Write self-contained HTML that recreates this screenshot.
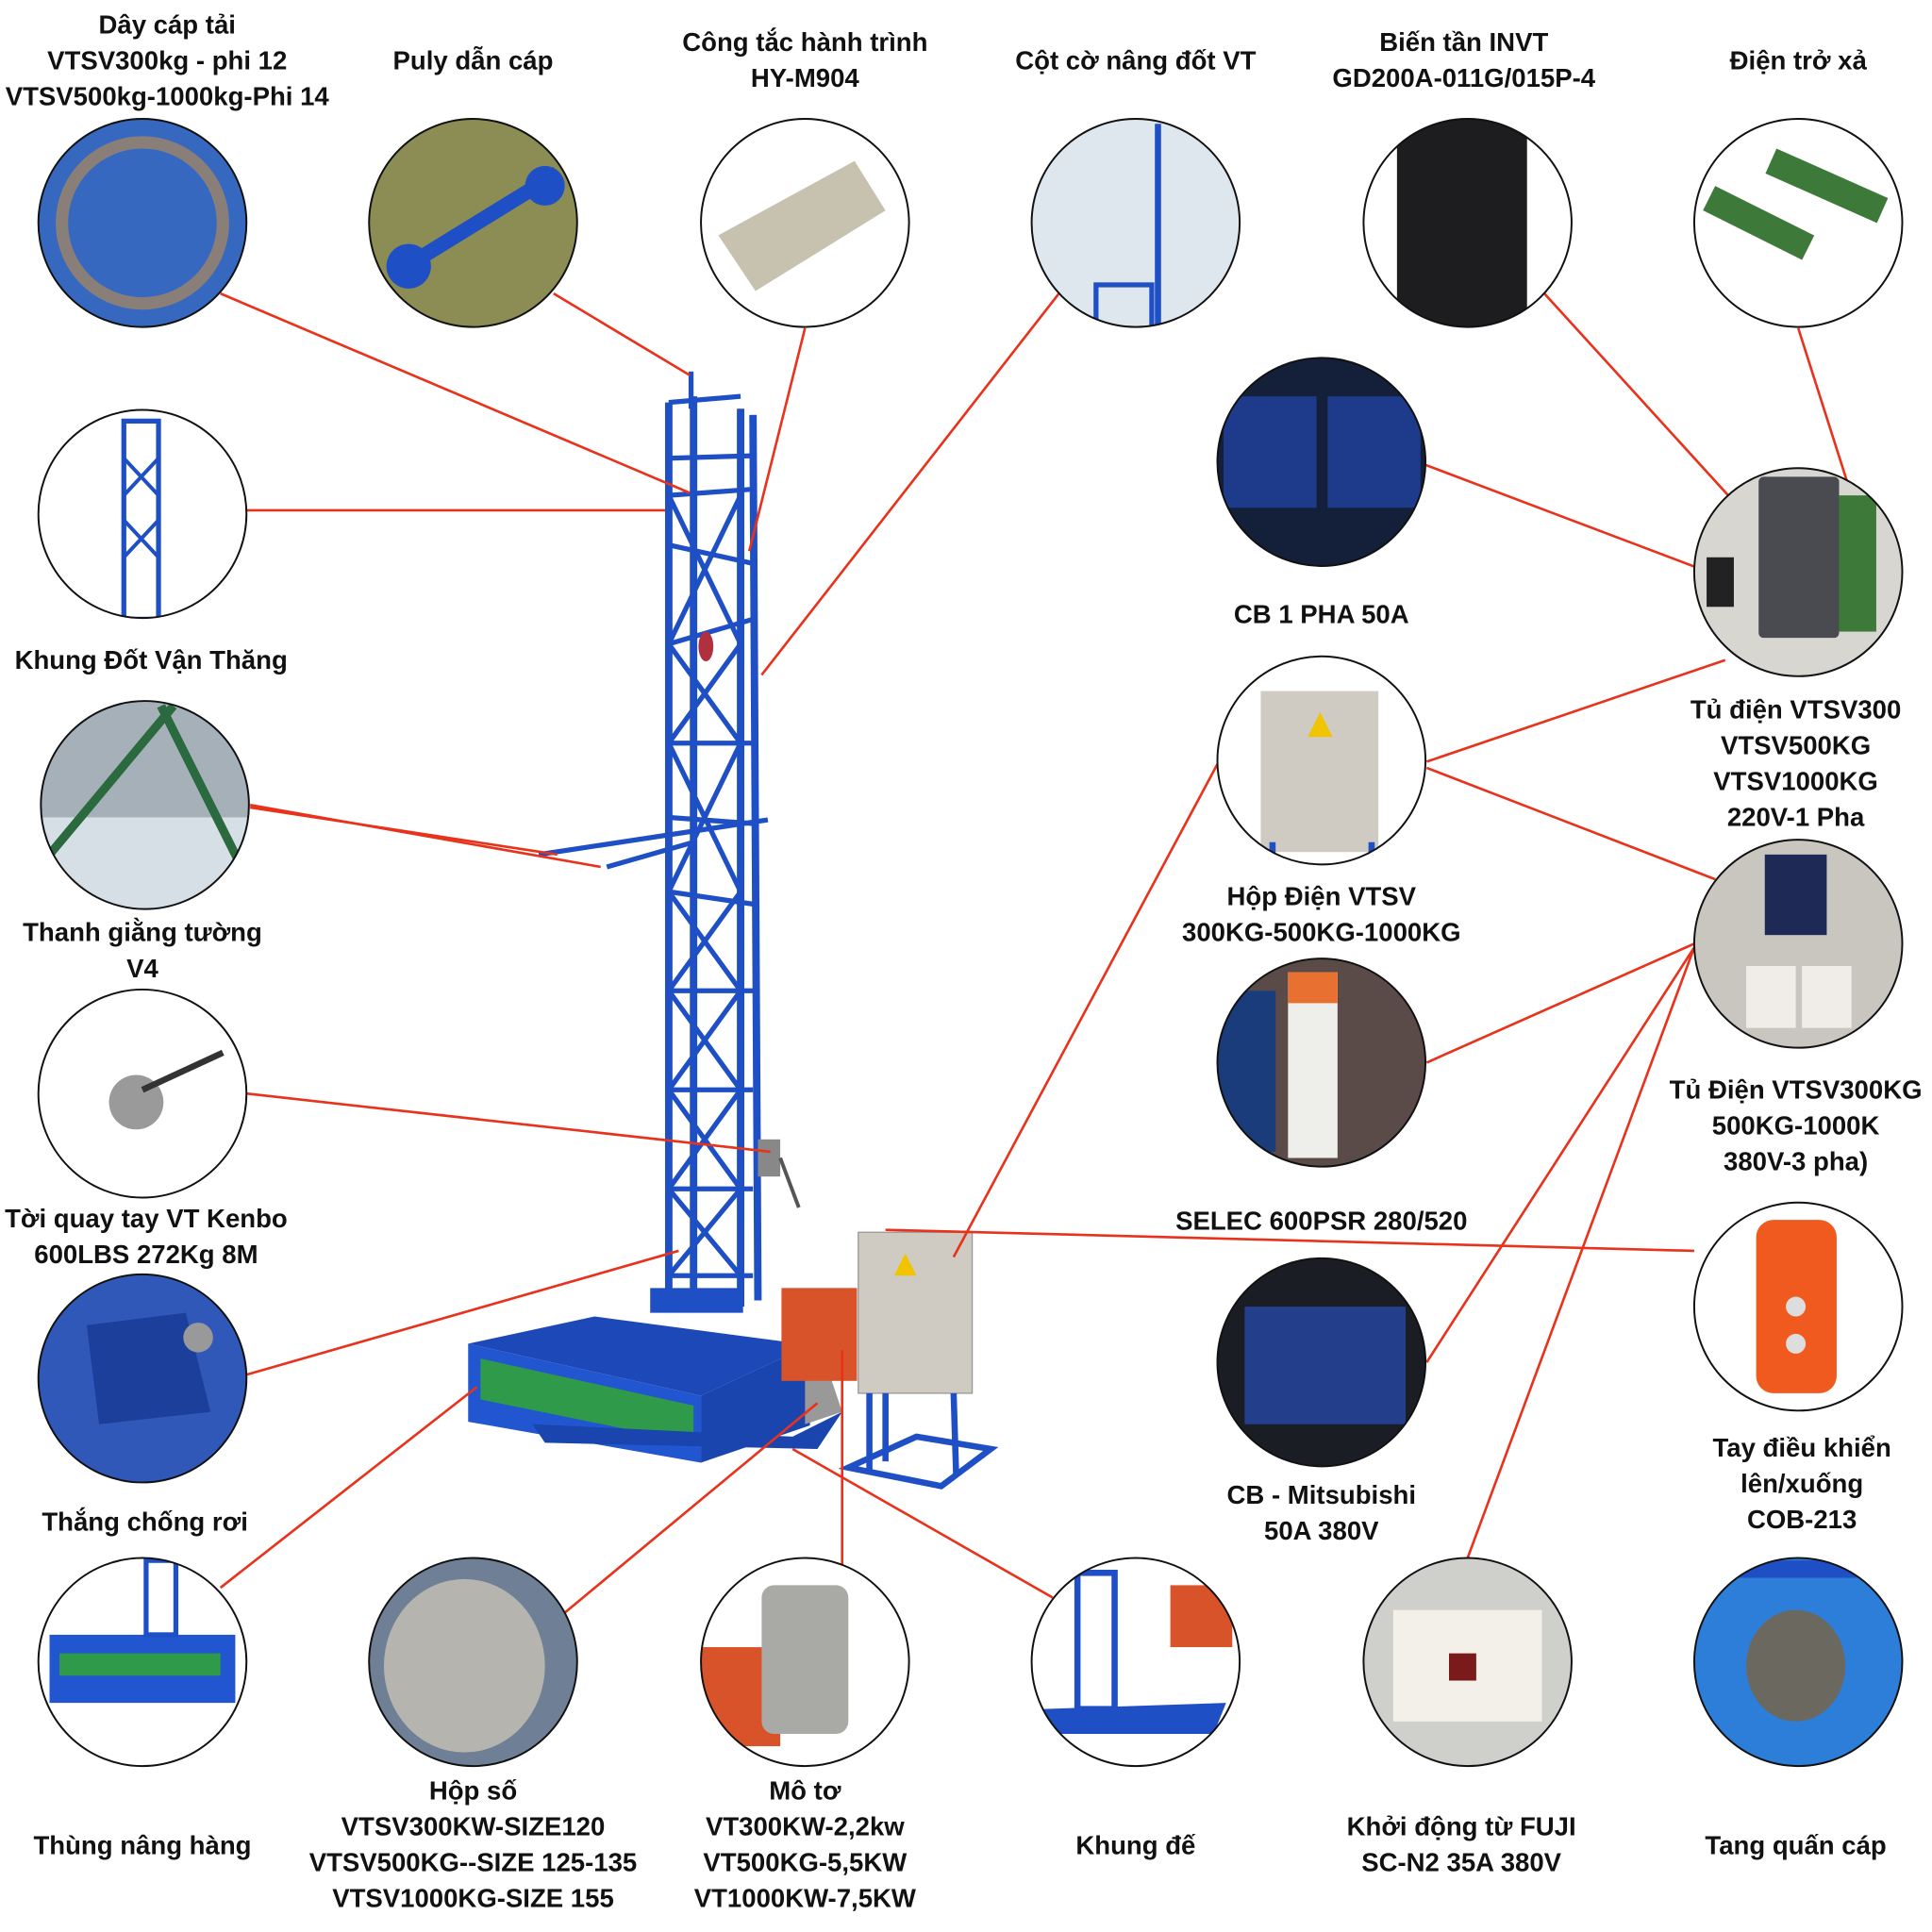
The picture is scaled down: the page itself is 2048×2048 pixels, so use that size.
<!DOCTYPE html>
<html><head><meta charset="utf-8"><style>
html,body{margin:0;padding:0;background:#fff}
svg{display:block}
text{font-family:"Liberation Sans","DejaVu Sans",sans-serif;font-weight:bold;font-size:21px;fill:#111;text-anchor:middle}
</style></head><body>
<svg width="2048" height="2048" viewBox="0 0 1560 1560" xmlns="http://www.w3.org/2000/svg">
<defs>
<clipPath id="c1"><circle cx="115" cy="180" r="84"/></clipPath>
<clipPath id="c2"><circle cx="382" cy="180" r="84"/></clipPath>
<clipPath id="c3"><circle cx="650" cy="180" r="84"/></clipPath>
<clipPath id="c4"><circle cx="917" cy="180" r="84"/></clipPath>
<clipPath id="c5"><circle cx="1185" cy="180" r="84"/></clipPath>
<clipPath id="c6"><circle cx="1452" cy="180" r="84"/></clipPath>
<clipPath id="c7"><circle cx="115" cy="415" r="84"/></clipPath>
<clipPath id="c8"><circle cx="117" cy="650" r="84"/></clipPath>
<clipPath id="c9"><circle cx="115" cy="883" r="84"/></clipPath>
<clipPath id="c10"><circle cx="115" cy="1113" r="84"/></clipPath>
<clipPath id="c11"><circle cx="115" cy="1342" r="84"/></clipPath>
<clipPath id="c12"><circle cx="382" cy="1342" r="84"/></clipPath>
<clipPath id="c13"><circle cx="650" cy="1342" r="84"/></clipPath>
<clipPath id="c14"><circle cx="917" cy="1342" r="84"/></clipPath>
<clipPath id="c15"><circle cx="1185" cy="1342" r="84"/></clipPath>
<clipPath id="c16"><circle cx="1452" cy="1342" r="84"/></clipPath>
<clipPath id="c17"><circle cx="1067" cy="373" r="84"/></clipPath>
<clipPath id="c18"><circle cx="1452" cy="462" r="84"/></clipPath>
<clipPath id="c19"><circle cx="1067" cy="614" r="84"/></clipPath>
<clipPath id="c20"><circle cx="1452" cy="762" r="84"/></clipPath>
<clipPath id="c21"><circle cx="1067" cy="858" r="84"/></clipPath>
<clipPath id="c22"><circle cx="1452" cy="1055" r="84"/></clipPath>
<clipPath id="c23"><circle cx="1067" cy="1100" r="84"/></clipPath>
</defs>

<!-- Tower -->
<g stroke="#1f4fc4" fill="none" stroke-width="6">
<line x1="540" y1="325" x2="540" y2="1055"/>
<line x1="560" y1="320" x2="560" y2="1055"/>
<line x1="598" y1="330" x2="598" y2="1055"/>
<line x1="608" y1="335" x2="612" y2="1050"/>
<g stroke-width="4">
<line x1="540" y1="325" x2="598" y2="320"/>
<line x1="540" y1="370" x2="608" y2="368"/>
<line x1="540" y1="400" x2="608" y2="395"/>
<line x1="540" y1="440" x2="608" y2="455"/>
<line x1="540" y1="520" x2="608" y2="500"/>
<line x1="540" y1="600" x2="608" y2="600"/>
<line x1="540" y1="660" x2="608" y2="665"/>
<line x1="540" y1="720" x2="608" y2="730"/>
<line x1="540" y1="800" x2="608" y2="800"/>
<line x1="540" y1="880" x2="608" y2="880"/>
<line x1="540" y1="960" x2="608" y2="960"/>
<line x1="540" y1="1030" x2="608" y2="1030"/>
<line x1="540" y1="400" x2="598" y2="520"/>
<line x1="598" y1="400" x2="540" y2="520"/>
<line x1="540" y1="520" x2="598" y2="600"/>
<line x1="598" y1="520" x2="540" y2="600"/>
<line x1="540" y1="600" x2="598" y2="720"/>
<line x1="598" y1="600" x2="540" y2="720"/>
<line x1="540" y1="720" x2="598" y2="800"/>
<line x1="598" y1="720" x2="540" y2="800"/>
<line x1="540" y1="800" x2="598" y2="880"/>
<line x1="598" y1="800" x2="540" y2="880"/>
<line x1="540" y1="880" x2="598" y2="960"/>
<line x1="598" y1="880" x2="540" y2="960"/>
<line x1="540" y1="960" x2="598" y2="1030"/>
<line x1="598" y1="960" x2="540" y2="1030"/>
<line x1="435" y1="690" x2="620" y2="662"/>
<line x1="490" y1="700" x2="560" y2="680"/>
</g>
<line x1="558" y1="300" x2="558" y2="330" stroke-width="4"/>
</g>
<ellipse cx="570" cy="522" rx="6" ry="12" fill="#b03040"/>
<rect x="612" y="920" width="18" height="30" fill="#888"/>
<line x1="630" y1="935" x2="645" y2="975" stroke="#555" stroke-width="3"/>

<!-- Base / box -->
<polygon points="525,1040 600,1040 600,1060 525,1060" fill="#1f4fc4"/>
<polygon points="480,1063 654,1086 566,1127 378,1085" fill="#1d48b8"/>
<polygon points="378,1085 566,1127 566,1181 378,1148" fill="#2156d0"/>
<polygon points="566,1127 654,1086 654,1151 566,1181" fill="#1a44ae"/>
<polygon points="388,1097 560,1135 560,1165 388,1130" fill="#2f9a4a"/>
<polygon points="430,1150 640,1160 680,1140 660,1170 440,1165" fill="#1a44ae"/>
<polygon points="650,1110 670,1110 680,1140 650,1150" fill="#999"/>
<rect x="631" y="1040" width="61" height="75" fill="#d9532a"/>
<rect x="693" y="995" width="92" height="130" fill="#cfcbc2" stroke="#999" stroke-width="1"/>
<polygon points="731,1012 740,1030 722,1030" fill="#f0c400"/>
<g stroke="#1f4fc4" stroke-width="5" fill="none">
<line x1="702" y1="1125" x2="702" y2="1190"/>
<line x1="715" y1="1125" x2="715" y2="1180"/>
<line x1="770" y1="1125" x2="772" y2="1190"/>
<polygon points="685,1185 740,1160 800,1170 760,1200"/>
</g>

<!-- Red lines -->
<g stroke="#e8321b" stroke-width="2" fill="none">
<line x1="178" y1="237" x2="557" y2="398"/>
<line x1="447" y1="237" x2="557" y2="303"/>
<line x1="650" y1="265" x2="605" y2="445"/>
<line x1="855" y1="237" x2="615" y2="545"/>
<line x1="199" y1="412" x2="537" y2="412"/>
<line x1="202" y1="650" x2="485" y2="700"/>
<line x1="202" y1="652" x2="450" y2="690"/>
<line x1="199" y1="883" x2="622" y2="930"/>
<line x1="199" y1="1110" x2="548" y2="1010"/>
<line x1="178" y1="1282" x2="385" y2="1120"/>
<line x1="455" y1="1303" x2="660" y2="1133"/>
<line x1="680" y1="1265" x2="680" y2="1090"/>
<line x1="850" y1="1290" x2="640" y2="1170"/>
<line x1="1247" y1="237" x2="1400" y2="405"/>
<line x1="1452" y1="265" x2="1495" y2="400"/>
<line x1="1150" y1="375" x2="1380" y2="462"/>
<line x1="1393" y1="533" x2="1152" y2="615"/>
<line x1="1152" y1="620" x2="1385" y2="710"/>
<line x1="983" y1="617" x2="770" y2="1015"/>
<line x1="1152" y1="858" x2="1368" y2="762"/>
<line x1="1152" y1="1100" x2="1368" y2="765"/>
<line x1="1185" y1="1258" x2="1368" y2="765"/>
<line x1="1368" y1="1010" x2="715" y2="993"/>
</g>

<!-- Circle contents -->
<g clip-path="url(#c1)"><rect x="20" y="90" width="190" height="180" fill="#3768c0"/><circle cx="115" cy="180" r="65" fill="none" stroke="#8a7f78" stroke-width="10"/></g>
<g clip-path="url(#c2)"><rect x="290" y="90" width="190" height="180" fill="#8c8c55"/><line x1="320" y1="220" x2="450" y2="140" stroke="#1f4fc4" stroke-width="12"/><circle cx="330" cy="215" r="18" fill="#1f4fc4"/><circle cx="440" cy="150" r="16" fill="#1f4fc4"/></g>
<g clip-path="url(#c3)"><rect x="560" y="90" width="190" height="180" fill="#fff"/><polygon points="580,190 690,130 715,170 610,235" fill="#c7c2b0"/></g>
<g clip-path="url(#c4)"><rect x="830" y="90" width="190" height="180" fill="#dfe7ee"/><line x1="935" y1="100" x2="935" y2="270" stroke="#1f4fc4" stroke-width="5"/><rect x="885" y="230" width="45" height="40" fill="none" stroke="#1f4fc4" stroke-width="4"/></g>
<g clip-path="url(#c5)"><rect x="1100" y="90" width="190" height="180" fill="#fff"/><rect x="1128" y="96" width="105" height="170" rx="6" fill="#1d1d1f"/></g>
<g clip-path="url(#c6)"><rect x="1360" y="90" width="190" height="180" fill="#fff"/><line x1="1380" y1="160" x2="1460" y2="200" stroke="#3d7a3a" stroke-width="22"/><line x1="1430" y1="130" x2="1520" y2="170" stroke="#3d7a3a" stroke-width="22"/></g>
<g clip-path="url(#c7)"><rect x="20" y="320" width="190" height="190" fill="#fff"/><rect x="100" y="340" width="28" height="160" fill="none" stroke="#1f4fc4" stroke-width="4"/><path d="M100 370 L128 400 M128 370 L100 400 M100 420 L128 450 M128 420 L100 450" stroke="#1f4fc4" stroke-width="3"/></g>
<g clip-path="url(#c8)"><rect x="30" y="560" width="190" height="180" fill="#a6b0b8"/><rect x="30" y="660" width="190" height="80" fill="#d6dfe6"/><line x1="40" y1="690" x2="140" y2="570" stroke="#2a6a3e" stroke-width="7"/><line x1="130" y1="570" x2="195" y2="700" stroke="#2a6a3e" stroke-width="7"/></g>
<g clip-path="url(#c9)"><rect x="20" y="790" width="190" height="190" fill="#fff"/><circle cx="110" cy="890" r="22" fill="#9a9a9a"/><line x1="115" y1="880" x2="180" y2="850" stroke="#333" stroke-width="5"/></g>
<g clip-path="url(#c10)"><rect x="20" y="1020" width="190" height="190" fill="#2f58b8"/><polygon points="70,1070 150,1060 170,1140 80,1150" fill="#1c3f9c"/><circle cx="160" cy="1080" r="12" fill="#999"/></g>
<g clip-path="url(#c11)"><rect x="20" y="1250" width="190" height="190" fill="#fff"/><rect x="40" y="1320" width="150" height="55" fill="#2156d0"/><rect x="48" y="1335" width="130" height="18" fill="#2f9a4a"/><rect x="118" y="1260" width="24" height="60" fill="none" stroke="#1f4fc4" stroke-width="4"/></g>
<g clip-path="url(#c12)"><rect x="290" y="1250" width="190" height="190" fill="#6f7f96"/><ellipse cx="375" cy="1345" rx="65" ry="70" fill="#b6b4ae"/></g>
<g clip-path="url(#c13)"><rect x="560" y="1250" width="190" height="190" fill="#fff"/><rect x="560" y="1330" width="70" height="80" fill="#d9532a"/><rect x="615" y="1280" width="70" height="120" rx="10" fill="#a9a9a6"/></g>
<g clip-path="url(#c14)"><rect x="830" y="1250" width="190" height="190" fill="#fff"/><rect x="870" y="1270" width="30" height="110" fill="none" stroke="#1f4fc4" stroke-width="5"/><rect x="945" y="1280" width="50" height="50" fill="#d9532a"/><polygon points="840,1380 990,1375 980,1400 850,1400" fill="#1f4fc4"/></g>
<g clip-path="url(#c15)"><rect x="1100" y="1250" width="190" height="190" fill="#cfcfcc"/><rect x="1125" y="1300" width="120" height="90" fill="#f3f0ea"/><rect x="1170" y="1335" width="22" height="22" fill="#7a1a1a"/></g>
<g clip-path="url(#c16)"><rect x="1360" y="1250" width="190" height="190" fill="#2d7ed8"/><ellipse cx="1450" cy="1345" rx="40" ry="45" fill="#6b6860"/><rect x="1380" y="1260" width="150" height="14" fill="#1f4fc4"/></g>
<g clip-path="url(#c17)"><rect x="980" y="285" width="190" height="180" fill="#14203a"/><rect x="988" y="320" width="75" height="90" fill="#1e3a8a"/><rect x="1072" y="320" width="75" height="90" fill="#1e3a8a"/></g>
<g clip-path="url(#c18)"><rect x="1360" y="370" width="190" height="190" fill="#d8d6d0"/><rect x="1420" y="385" width="65" height="130" rx="4" fill="#4a4b50"/><rect x="1485" y="400" width="30" height="110" fill="#3d7a3a"/><rect x="1378" y="450" width="22" height="40" fill="#222"/></g>
<g clip-path="url(#c19)"><rect x="980" y="520" width="190" height="190" fill="#fff"/><rect x="1018" y="558" width="95" height="130" fill="#cfcbc2"/><rect x="1025" y="680" width="5" height="30" fill="#1f4fc4"/><rect x="1105" y="680" width="5" height="30" fill="#1f4fc4"/><polygon points="1066,575 1076,595 1056,595" fill="#f0c400"/></g>
<g clip-path="url(#c20)"><rect x="1360" y="670" width="190" height="190" fill="#c9c6c0"/><rect x="1425" y="690" width="50" height="65" fill="#1e2a55"/><rect x="1410" y="780" width="40" height="50" fill="#f0ede8"/><rect x="1455" y="780" width="40" height="50" fill="#f0ede8"/></g>
<g clip-path="url(#c21)"><rect x="980" y="770" width="190" height="190" fill="#5a4a48"/><rect x="980" y="800" width="50" height="130" fill="#1a3c7a"/><rect x="1040" y="785" width="40" height="150" fill="#eeeeea"/><rect x="1040" y="785" width="40" height="25" fill="#e87030"/></g>
<g clip-path="url(#c22)"><rect x="1360" y="960" width="190" height="190" fill="#fff"/><rect x="1418" y="985" width="65" height="140" rx="14" fill="#f05a1e"/><circle cx="1450" cy="1055" r="8" fill="#ddd"/><circle cx="1450" cy="1085" r="8" fill="#ddd"/></g>
<g clip-path="url(#c23)"><rect x="980" y="1010" width="190" height="190" fill="#1b1d24"/><rect x="1005" y="1055" width="130" height="95" fill="#233e8a"/></g>

<!-- Circle outlines -->
<g fill="none" stroke="#111" stroke-width="1.5">
<circle cx="115" cy="180" r="84"/><circle cx="382" cy="180" r="84"/><circle cx="650" cy="180" r="84"/><circle cx="917" cy="180" r="84"/><circle cx="1185" cy="180" r="84"/><circle cx="1452" cy="180" r="84"/>
<circle cx="115" cy="415" r="84"/><circle cx="117" cy="650" r="84"/><circle cx="115" cy="883" r="84"/><circle cx="115" cy="1113" r="84"/><circle cx="115" cy="1342" r="84"/>
<circle cx="382" cy="1342" r="84"/><circle cx="650" cy="1342" r="84"/><circle cx="917" cy="1342" r="84"/><circle cx="1185" cy="1342" r="84"/><circle cx="1452" cy="1342" r="84"/>
<circle cx="1067" cy="373" r="84"/><circle cx="1452" cy="462" r="84"/><circle cx="1067" cy="614" r="84"/><circle cx="1452" cy="762" r="84"/><circle cx="1067" cy="858" r="84"/><circle cx="1452" cy="1055" r="84"/><circle cx="1067" cy="1100" r="84"/>
</g>

<!-- Labels -->
<text x="135" y="27">Dây cáp tải</text>
<text x="135" y="56">VTSV300kg - phi 12</text>
<text x="135" y="85">VTSV500kg-1000kg-Phi 14</text>
<text x="382" y="56">Puly dẫn cáp</text>
<text x="650" y="41">Công tắc hành trình</text>
<text x="650" y="70">HY-M904</text>
<text x="917" y="56">Cột cờ nâng đốt VT</text>
<text x="1182" y="41">Biến tần INVT</text>
<text x="1182" y="70">GD200A-011G/015P-4</text>
<text x="1452" y="56">Điện trở xả</text>
<text x="122" y="540">Khung Đốt Vận Thăng</text>
<text x="115" y="760">Thanh giằng tường</text>
<text x="115" y="789">V4</text>
<text x="118" y="991">Tời quay tay VT Kenbo</text>
<text x="118" y="1020">600LBS 272Kg 8M</text>
<text x="117" y="1236">Thắng chống rơi</text>
<text x="115" y="1497">Thùng nâng hàng</text>
<text x="382" y="1453">Hộp số</text>
<text x="382" y="1482">VTSV300KW-SIZE120</text>
<text x="382" y="1511">VTSV500KG--SIZE 125-135</text>
<text x="382" y="1540">VTSV1000KG-SIZE 155</text>
<text x="650" y="1453">Mô tơ</text>
<text x="650" y="1482">VT300KW-2,2kw</text>
<text x="650" y="1511">VT500KG-5,5KW</text>
<text x="650" y="1540">VT1000KW-7,5KW</text>
<text x="917" y="1497">Khung đế</text>
<text x="1180" y="1482">Khởi động từ FUJI</text>
<text x="1180" y="1511">SC-N2 35A 380V</text>
<text x="1450" y="1497">Tang quấn cáp</text>
<text x="1067" y="503">CB 1 PHA 50A</text>
<text x="1450" y="580">Tủ điện VTSV300</text>
<text x="1450" y="609">VTSV500KG</text>
<text x="1450" y="638">VTSV1000KG</text>
<text x="1450" y="667">220V-1 Pha</text>
<text x="1067" y="731">Hộp Điện VTSV</text>
<text x="1067" y="760">300KG-500KG-1000KG</text>
<text x="1450" y="887">Tủ Điện VTSV300KG</text>
<text x="1450" y="916">500KG-1000K</text>
<text x="1450" y="945">380V-3 pha)</text>
<text x="1067" y="993">SELEC 600PSR 280/520</text>
<text x="1455" y="1176">Tay điều khiển</text>
<text x="1455" y="1205">lên/xuống</text>
<text x="1455" y="1234">COB-213</text>
<text x="1067" y="1214">CB - Mitsubishi</text>
<text x="1067" y="1243">50A 380V</text>
</svg>
</body></html>
